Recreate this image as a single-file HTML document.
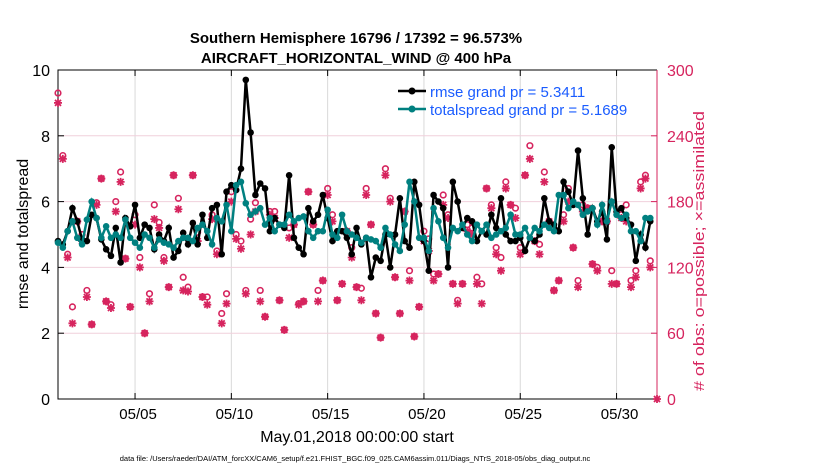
<!DOCTYPE html>
<html><head><meta charset="utf-8"><style>
body{margin:0;background:#fff;width:830px;height:470px;overflow:hidden;font-family:"Liberation Sans",sans-serif}
</style></head><body>
<svg id="c" width="830" height="470" style="position:absolute;left:0;top:0" font-family="Liberation Sans, sans-serif">
<text x="356" y="43" text-anchor="middle" font-size="15" font-weight="bold">Southern Hemisphere 16796 / 17392 = 96.573%</text>
<text x="356" y="63" text-anchor="middle" font-size="15" font-weight="bold">AIRCRAFT_HORIZONTAL_WIND @ 400 hPa</text>
<text transform="translate(28,234) rotate(-90)" text-anchor="middle" font-size="16">rmse and totalspread</text>
<text transform="translate(704,251) rotate(-90)" text-anchor="middle" font-size="15" fill="#d6245e" textLength="280" lengthAdjust="spacingAndGlyphs"># of obs: o=possible; ×=assimilated</text>
<text x="357" y="442" text-anchor="middle" font-size="16">May.01,2018 00:00:00 start</text>
<text x="355" y="461" text-anchor="middle" font-size="7.5">data file: /Users/raeder/DAI/ATM_forcXX/CAM6_setup/f.e21.FHIST_BGC.f09_025.CAM6assim.011/Diags_NTrS_2018-05/obs_diag_output.nc</text>
<g id="grid"></g><g id="axes"></g><g id="marks"></g>
<g>
<line x1="398" y1="91" x2="426" y2="91" stroke="#000" stroke-width="2.5"/><circle cx="412" cy="91" r="3.5" fill="#000"/>
<text x="430" y="97" font-size="15" fill="#1a5cff">rmse grand pr = 5.3411</text>
<line x1="398" y1="109" x2="426" y2="109" stroke="#008080" stroke-width="2.5"/><circle cx="412" cy="109" r="3.5" fill="#008080"/>
<text x="430" y="115" font-size="15" fill="#1a5cff">totalspread grand pr = 5.1689</text>
</g>
</svg>
<script>
const rmse=[4.8,4.7,5.1,5.8,5.4,4.85,4.8,5.6,5.5,4.85,4.55,4.35,5.2,4.15,5.5,5.25,5.9,4.9,5.3,5.2,4.55,5.0,4.8,5.2,4.3,4.5,5.05,4.7,5.35,4.7,5.6,4.9,5.8,5.9,4.4,6.3,6.5,6.35,7.0,9.7,8.1,6.2,
6.55,6.4,5.1,5.5,5.3,5.2,6.8,4.9,4.6,4.4,5.8,5.4,5.6,6.2,5.5,4.8,5.1,5.1,4.9,4.4,5.2,4.7,4.9,3.7,4.3,4.2,5.0,4.0,5.0,6.1,4.8,4.6,6.6,5.9,4.8,3.9,6.2,6.0,5.8,4.0,6.6,6.0,
5.2,5.5,5.4,4.8,5.1,5.0,5.6,5.2,6.1,5.0,4.8,4.8,4.9,4.5,4.9,4.8,5.0,6.1,5.4,5.3,5.1,6.6,6.3,5.9,7.55,6.1,5.0,5.8,5.4,5.7,4.85,7.65,5.7,5.8,5.5,5.3,4.2,5.0,4.6,5.4];
const spread=[4.75,4.6,5.1,5.4,4.9,4.7,5.45,6.0,5.5,4.9,5.25,4.9,5.0,4.9,5.45,4.9,4.75,4.6,5.0,4.9,4.6,4.85,4.75,4.7,4.6,4.8,4.9,4.9,4.8,5.2,5.3,5.1,4.7,5.5,5.4,5.9,5.1,6.5,6.6,5.95,5.6,5.7,
5.8,5.3,5.5,5.1,5.3,5.3,5.6,5.4,5.5,5.55,5.1,4.9,5.1,5.1,5.75,5.0,4.9,5.6,5.1,5.0,4.9,4.75,4.9,4.85,4.8,4.6,5.2,5.0,4.7,4.5,5.3,6.6,6.0,4.9,4.9,4.5,5.8,5.4,4.9,4.6,5.2,5.1,
5.3,5.0,4.8,5.3,5.1,5.3,4.9,5.0,5.1,5.2,5.6,5.0,5.0,5.2,4.9,5.2,5.1,5.3,5.2,5.1,6.2,6.2,5.8,6.0,5.9,5.6,5.7,5.8,5.3,5.9,5.4,6.0,5.6,5.5,5.6,5.1,5.1,4.8,5.5,5.5];
const possible=[279,222,132,84,162,150,99,68,179,201,89,86,180,207,128,84,168,129,60,96,177,161,129,102,204,183,111,102,204,152,93,93,168,135,78,96,189,150,144,99,164,179,
99,75,171,171,90,63,156,159,87,89,189,159,99,108,192,168,90,105,153,138,102,101,192,159,78,56,210,183,111,78,171,117,57,84,153,146,114,114,186,168,105,90,
105,159,156,111,105,192,177,138,129,198,177,174,138,204,231,144,141,207,162,99,108,168,192,138,108,177,174,123,120,162,162,117,105,168,177,108,117,198,204,126];
const assimilated=[270,219,129,69,162,144,93,68,177,201,89,83,171,198,128,84,159,120,60,89,164,156,126,102,204,173,99,98,204,144,93,86,164,132,69,87,180,146,137,96,150,171,
89,75,168,165,90,63,147,159,86,89,189,159,89,108,186,162,90,105,153,129,102,90,186,159,78,56,204,180,111,78,171,108,57,84,144,135,108,114,177,165,105,87,
105,153,150,105,87,192,174,132,117,192,177,165,132,204,219,144,132,198,162,99,108,162,180,138,102,171,174,123,117,162,162,105,105,165,162,102,111,192,201,120];
const xTickDays=[4,9,14,19,24,29];
const xTickLabels=["05/05","05/10","05/15","05/20","05/25","05/30"];
const yLeftTicks=[0,2,4,6,8,10];
const yRightTicks=[0,60,120,180,240,300];

const L=58,R=657,T=70,B=399,DAYS=31.1;
const xs=d=>L+d/DAYS*(R-L);
const yl=v=>B-v/10*(B-T);
const yr=v=>B-v/300*(B-T);
const NS="http://www.w3.org/2000/svg";
function mk(tag,parent,attrs){const e=document.createElementNS(NS,tag);for(const k in attrs)e.setAttribute(k,attrs[k]);parent.appendChild(e);return e;}
const grid=document.getElementById('grid'),axes=document.getElementById('axes'),marks=document.getElementById('marks');
xTickDays.forEach((d,i)=>{
  const g=mk('line',grid,{x1:xs(d),x2:xs(d),y1:T,y2:B,stroke:'#d9d9d9','stroke-width':1});
  
  
  const t=mk('text',axes,{x:xs(d)+3,y:B+20,'text-anchor':'middle','font-size':15});
  t.textContent=xTickLabels[i];
  
  
  mk('line',axes,{x1:xs(d),x2:xs(d),y1:B,y2:B-6,stroke:'#000'});
  mk('line',axes,{x1:xs(d),x2:xs(d),y1:T,y2:T+6,stroke:'#000'});
});
yLeftTicks.forEach(v=>{
  if(v>0&&v<10){const g=mk('line',grid,{x1:L,x2:R,y1:yl(v),y2:yl(v),stroke:'#f0d0dc','stroke-width':1});
  
  }
  const t=mk('text',axes,{x:L-8,y:yl(v)+6,'text-anchor':'end','font-size':16});
  t.textContent=v;
  
  
  mk('line',axes,{x1:L,x2:L+6,y1:yl(v),y2:yl(v),stroke:'#000'});
});
yRightTicks.forEach(v=>{
  const t=mk('text',axes,{x:R+10,y:yr(v)+6,'font-size':16,fill:'#d6245e'});
  t.textContent=v;
  
  
  mk('line',axes,{x1:R,x2:R-6,y1:yr(v),y2:yr(v),stroke:'#d6245e'});
});
let fr=mk('path',axes,{d:`M${R},${T}H${L}V${B}H${R}`,fill:'none',stroke:'#000','stroke-width':1});


let ra=mk('line',axes,{x1:R,x2:R,y1:T,y2:B,stroke:'#d6245e','stroke-width':1});



const dayOf=i=>i*0.25;
possible.forEach((v,i)=>{
  const c=mk('circle',marks,{cx:xs(dayOf(i)),cy:yr(v),r:2.8,fill:'none',stroke:'#d6245e','stroke-width':1.6});
  
  
});
assimilated.forEach((v,i)=>{
  const x=xs(dayOf(i)),y=yr(v),s=4;
  const p=mk('path',marks,{d:`M${x-s},${y}H${x+s}M${x},${y-s}V${y+s}M${x-3},${y-3}L${x+3},${y+3}M${x-3},${y+3}L${x+3},${y-3}`,stroke:'#d6245e','stroke-width':1.8});
  
  
});
function series(arr,color,name){
  const pl=mk('polyline',marks,{points:arr.map((v,i)=>xs(dayOf(i))+','+yl(v)).join(' '),fill:'none',stroke:color,'stroke-width':2.5});
  
  
  arr.forEach((v,i)=>{
    const c=mk('circle',marks,{cx:xs(dayOf(i)),cy:yl(v),r:3.3,fill:color});
    
    
  });
}
series(rmse,'#000','rmse');
series(spread,'#008080','totalspread');
const z=mk('path',marks,{d:`M${R-4},${B}H${R+4}M${R},${B-4}V${B+4}M${R-3},${B-3}L${R+3},${B+3}M${R-3},${B+3}L${R+3},${B-3}`,stroke:'#d6245e','stroke-width':1.8});


</script>
</body></html>
